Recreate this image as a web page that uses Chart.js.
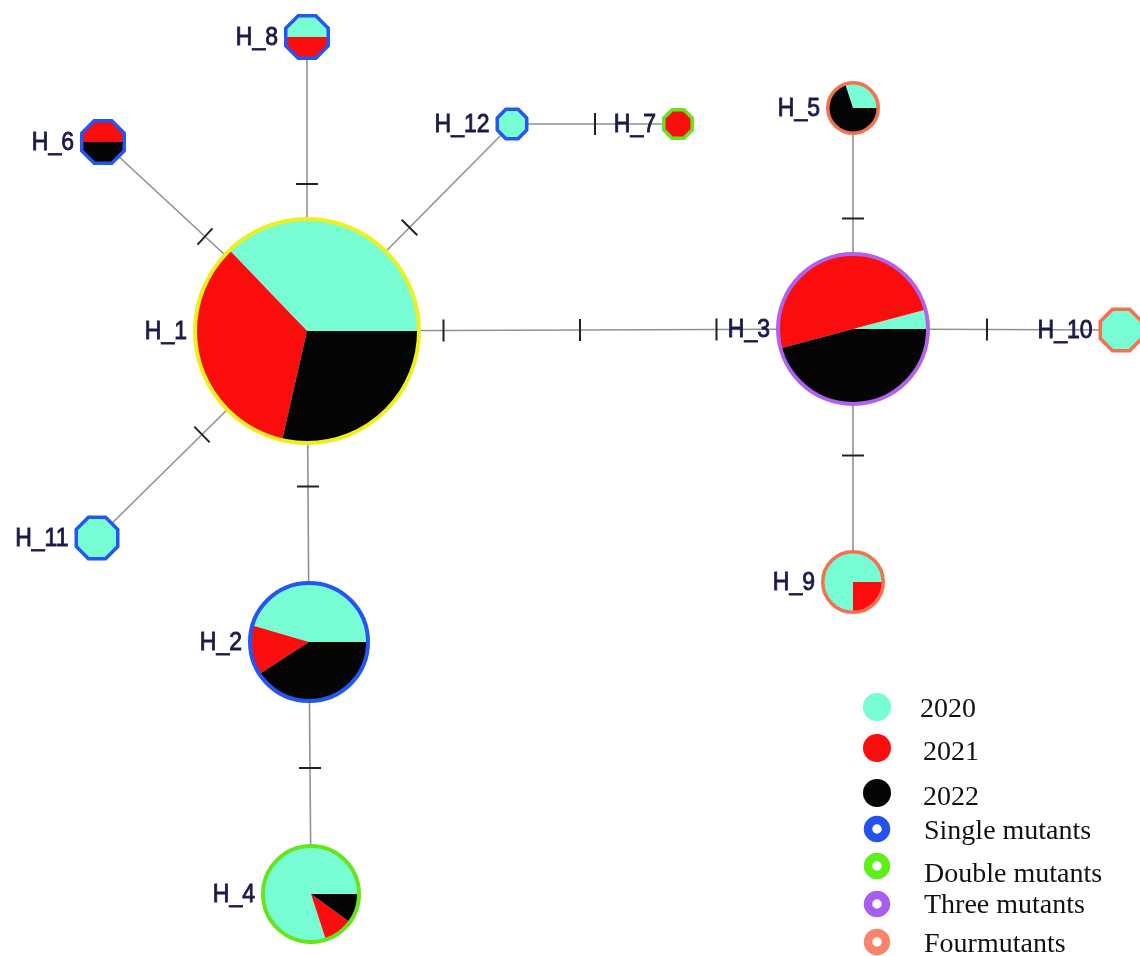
<!DOCTYPE html>
<html>
<head>
<meta charset="utf-8">
<title>Haplotype network</title>
<script src="https://cdn.jsdelivr.net/npm/chart.js@4/dist/chart.umd.min.js"></script>
<style>
  html, body { margin: 0; padding: 0; background: #ffffff; }
  #wrap { width: 1140px; height: 956px; position: relative; }
</style>
</head>
<body>
<div id="wrap"><canvas id="net"></canvas></div>
<script>
// Haplotypes and the number of samples per collection year
const haplotypes  = ['H_1', 'H_2', 'H_3', 'H_4', 'H_5', 'H_6', 'H_7', 'H_8', 'H_9', 'H_10', 'H_11', 'H_12'];
const samples2020 = [13, 10,  1,  8,  3,  0,  0,  1,  3,  1,  1,  1];
const samples2021 = [12,  3, 12,  1,  0,  1,  1,  1,  1,  0,  0,  0];
const samples2022 = [10,  9, 11,  1,  7,  1,  0,  0,  0,  0,  0,  0];

// Mutational steps separating each haplotype from H_1
const mutationSteps = [0, 1, 3, 2, 4, 1, 2, 1, 4, 4, 1, 1];

// Links of the network and the number of mutations on each link
const linkFrom  = ['H_1', 'H_1', 'H_1', 'H_12', 'H_1', 'H_3', 'H_3', 'H_3', 'H_1', 'H_1', 'H_2'];
const linkTo    = ['H_8', 'H_6', 'H_12', 'H_7', 'H_3', 'H_5', 'H_10', 'H_9', 'H_11', 'H_2', 'H_4'];
const linkSteps = [1, 1, 1, 1, 3, 1, 1, 1, 1, 1, 1];

// Legend entries
const yearLabels     = ['2020', '2021', '2022'];
const mutationLabels = ['Single mutants', 'Double mutants', 'Three mutants', 'Fourmutants'];

// Network layout (layout units) and node sizes
const layoutX    = [307, 309, 853, 311, 853, 103, 678, 307, 853, 1121,  97, 512];
const layoutY    = [331, 642, 329, 894, 108, 142, 124,  37, 582,  330, 538, 124];
const nodeRadius = [114,  61,  77,  50,  27,  23,  16,  23,  32, 22.5, 22.5, 16.5];

// Styling
const yearColors = ['#78fcd4', '#fb0d0d', '#050505'];
const stepColors = ['#eef01e', '#2456f2', '#66e41e', '#b062ee', '#f4704e'];
const legendRingColors = ['#2352f0', '#5ff01a', '#a95cf0', '#f7846c'];
const edgeColor = '#8c9292';
const tickColor = '#222222';

const idx = name => haplotypes.indexOf(name);

const edgeDatasets = linkFrom.map((from, k) => {
  const a = idx(from), b = idx(linkTo[k]);
  return {
    label: from + '-' + linkTo[k],
    data: [{ x: layoutX[a], y: layoutY[a] }, { x: layoutX[b], y: layoutY[b] }],
    showLine: true,
    borderColor: edgeColor,
    borderWidth: 1.6,
    pointRadius: 0,
    pointHoverRadius: 0
  };
});

const nodeDataset = {
  label: 'haplotypes',
  data: haplotypes.map((h, i) => ({ x: layoutX[i], y: layoutY[i] })),
  showLine: false,
  pointRadius: 0,
  pointHoverRadius: 0
};
const NODE_SET = edgeDatasets.length;

function outlinePath(ctx, cx, cy, r, octagon) {
  ctx.beginPath();
  if (octagon) {
    const rv = r / Math.cos(Math.PI / 8);
    for (let k = 0; k < 8; k++) {
      const a = Math.PI / 8 + k * Math.PI / 4;
      const px = cx + rv * Math.cos(a), py = cy + rv * Math.sin(a);
      if (k === 0) ctx.moveTo(px, py); else ctx.lineTo(px, py);
    }
    ctx.closePath();
  } else {
    ctx.arc(cx, cy, r, 0, Math.PI * 2);
  }
}

const networkPlugin = {
  id: 'haplotypeNetwork',
  afterDatasetsDraw(chart) {
    const ctx = chart.ctx;
    const xs = chart.scales.x;
    const meta = chart.getDatasetMeta(NODE_SET);
    const px = i => meta.data[i].x;
    const py = i => meta.data[i].y;
    const rad = i => Math.abs(xs.getPixelForValue(nodeRadius[i]) - xs.getPixelForValue(0));

    // mutation hatch marks, evenly spaced along each link
    ctx.save();
    ctx.strokeStyle = tickColor;
    ctx.lineWidth = 2;
    linkFrom.forEach((from, k) => {
      const a = idx(from), b = idx(linkTo[k]);
      const x0 = px(a), y0 = py(a), dx = px(b) - x0, dy = py(b) - y0;
      const len = Math.hypot(dx, dy);
      const nx = -dy / len, ny = dx / len;
      const n = linkSteps[k];
      for (let s = 1; s <= n; s++) {
        const t = s / (n + 1);
        const cx = x0 + dx * t, cy = y0 + dy * t;
        ctx.beginPath();
        ctx.moveTo(cx - nx * 11, cy - ny * 11);
        ctx.lineTo(cx + nx * 11, cy + ny * 11);
        ctx.stroke();
      }
    });
    ctx.restore();

    // haplotype pies
    haplotypes.forEach((h, i) => {
      const cx = px(i), cy = py(i), r = rad(i);
      const octagon = r < 24;
      const lw = r > 40 ? 4 : 3.5;
      const counts = [samples2020[i], samples2021[i], samples2022[i]];
      const total = counts.reduce((s, v) => s + v, 0);
      ctx.save();
      outlinePath(ctx, cx, cy, r - lw / 2, octagon);
      ctx.clip();
      let start = 0;
      counts.forEach((c, j) => {
        if (!c) return;
        const sweep = c / total * Math.PI * 2;
        ctx.beginPath();
        ctx.moveTo(cx, cy);
        ctx.arc(cx, cy, r * 1.3, -start, -(start + sweep), true);
        ctx.closePath();
        ctx.fillStyle = yearColors[j];
        ctx.fill();
        start += sweep;
      });
      ctx.restore();
      ctx.save();
      outlinePath(ctx, cx, cy, r - lw / 2, octagon);
      ctx.lineWidth = lw;
      ctx.strokeStyle = stepColors[mutationSteps[i]];
      ctx.stroke();
      ctx.restore();

      // name to the left of the node
      ctx.save();
      ctx.font = '23px "Liberation Sans", Arial, sans-serif';
      ctx.fillStyle = '#1b1b48';
      ctx.strokeStyle = '#1b1b48';
      ctx.lineWidth = 0.8;
      ctx.textAlign = 'right';
      ctx.textBaseline = 'middle';
      ctx.translate(cx - r - 6, cy + 1);
      ctx.scale(1, 1.15);
      ctx.fillText(h, 0, 0);
      ctx.strokeText(h, 0, 0);
      ctx.restore();
    });

    // legend
    ctx.save();
    ctx.font = '28px "Liberation Serif", "Times New Roman", serif';
    ctx.fillStyle = '#111111';
    ctx.textAlign = 'left';
    ctx.textBaseline = 'alphabetic';
    const yearDotY = [707, 748, 793];
    const yearTextY = [717, 760, 805];
    const yearTextX = [920, 923, 923];
    yearLabels.forEach((lab, j) => {
      ctx.beginPath();
      ctx.arc(877, yearDotY[j], 14, 0, Math.PI * 2);
      ctx.fillStyle = yearColors[j];
      ctx.fill();
      ctx.fillStyle = '#111111';
      ctx.fillText(lab, yearTextX[j], yearTextY[j]);
    });
    const ringY = [829, 866, 904, 942];
    const ringTextY = [839, 882, 913, 952];
    mutationLabels.forEach((lab, j) => {
      ctx.beginPath();
      ctx.arc(877, ringY[j], 9, 0, Math.PI * 2);
      ctx.lineWidth = 8.5;
      ctx.strokeStyle = legendRingColors[j];
      ctx.stroke();
      ctx.fillStyle = '#111111';
      ctx.fillText(lab, 924, ringTextY[j]);
    });
    ctx.restore();
  }
};

new Chart(document.getElementById('net'), {
  type: 'scatter',
  data: { datasets: [...edgeDatasets, nodeDataset] },
  options: {
    responsive: true,
    maintainAspectRatio: false,
    animation: false,
    events: [],
    layout: { padding: 0 },
    plugins: { legend: { display: false }, tooltip: { enabled: false } },
    scales: {
      x: { type: 'linear', min: 0, max: 1140, display: false },
      y: { type: 'linear', min: 0, max: 956, reverse: true, display: false }
    }
  },
  plugins: [networkPlugin]
});
</script>
</body>
</html>
